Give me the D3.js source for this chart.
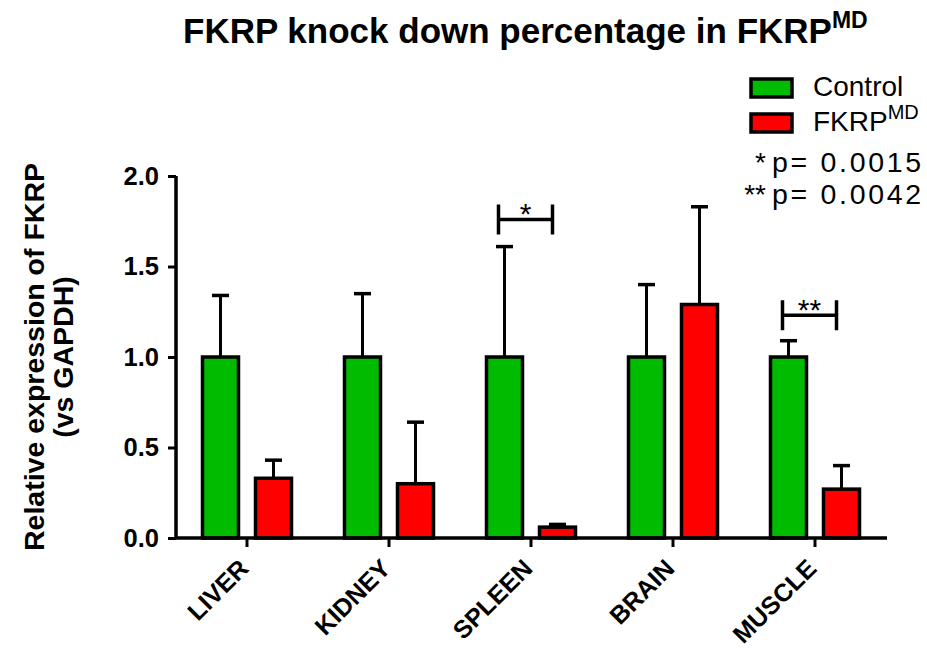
<!DOCTYPE html>
<html>
<head>
<meta charset="utf-8">
<script src="https://cdn.jsdelivr.net/npm/d3@7"></script>
<style>
  html, body { margin: 0; padding: 0; background: #fff; }
  svg { display: block; font-family: "Liberation Sans", Arial, Helvetica, sans-serif; }
</style>
</head>
<body>
<svg id="chart" width="927" height="649"></svg>
<script>
// Tissues and series
const tissues = ["LIVER", "KIDNEY", "SPLEEN", "BRAIN", "MUSCLE"];
const seriesNames = ["Control", "FKRP"];
const seriesColors = ["#00bb00", "#ff0000"];

// Mean relative expression (vs GAPDH) and upper error (mean + SD)
const controlMean = [1.00, 1.00, 1.00, 1.00, 1.00];
const controlUpper = [1.34, 1.35, 1.61, 1.40, 1.09];
const fkrpMean = [0.33, 0.30, 0.06, 1.29, 0.27];
const fkrpUpper = [0.43, 0.64, 0.075, 1.83, 0.40];

// Y axis ticks
const yTicks = [0.0, 0.5, 1.0, 1.5, 2.0];

// Significance brackets
const sigTissues = ["SPLEEN", "MUSCLE"];
const sigLevels = [1.76, 1.23];
const sigLabels = ["*", "**"];
const pValueLines = ["p= 0.0015", "p= 0.0042"];

const svg = d3.select("#chart");

const y = d3.scaleLinear().domain([0, 2]).range([538, 176]);
const x0 = d3.scaleBand().domain(tissues).range([176, 886]).padding(0);
const x1 = d3.scaleBand().domain(seriesNames).range([26.5, 115.5]).paddingInner(0.3208).paddingOuter(0);

const rows = tissues.map((t, i) => ({
  tissue: t,
  values: [
    { key: "Control", mean: controlMean[i], upper: controlUpper[i], color: seriesColors[0] },
    { key: "FKRP", mean: fkrpMean[i], upper: fkrpUpper[i], color: seriesColors[1] }
  ]
}));

// Title
const title = svg.append("text")
  .attr("x", 183).attr("y", 43)
  .attr("font-size", 35).attr("font-weight", "bold").attr("fill", "#000");
title.append("tspan").text("FKRP knock down percentage in FKRP");
title.append("tspan").attr("font-size", 23).attr("dy", -15).text("MD");

// Error bars (upper only), drawn first so bars sit on top
const groups = svg.append("g").selectAll("g")
  .data(rows).join("g")
  .attr("transform", d => `translate(${x0(d.tissue)},0)`);

groups.selectAll("line.err")
  .data(d => d.values).join("line")
  .attr("class", "err")
  .attr("x1", d => x1(d.key) + x1.bandwidth() / 2)
  .attr("x2", d => x1(d.key) + x1.bandwidth() / 2)
  .attr("y1", d => y(d.mean))
  .attr("y2", d => y(d.upper))
  .attr("stroke", "#000").attr("stroke-width", 3);

groups.selectAll("line.cap")
  .data(d => d.values).join("line")
  .attr("class", "cap")
  .attr("x1", d => x1(d.key) + x1.bandwidth() / 2 - 8.5)
  .attr("x2", d => x1(d.key) + x1.bandwidth() / 2 + 8.5)
  .attr("y1", d => y(d.upper))
  .attr("y2", d => y(d.upper))
  .attr("stroke", "#000").attr("stroke-width", 3.5);

groups.selectAll("rect")
  .data(d => d.values).join("rect")
  .attr("x", d => x1(d.key))
  .attr("y", d => y(d.mean))
  .attr("width", x1.bandwidth())
  .attr("height", d => y(0) - y(d.mean))
  .attr("fill", d => d.color)
  .attr("stroke", "#000").attr("stroke-width", 3.5);

// Y axis
const yAxis = svg.append("g")
  .attr("transform", "translate(176,0)")
  .call(d3.axisLeft(y).tickValues(yTicks).tickFormat(d3.format(".1f")).tickSize(8).tickPadding(9));
yAxis.select(".domain").attr("stroke", "#000").attr("stroke-width", 3.5).attr("d", `M0,${y(2)}V${y(0)}`);
yAxis.selectAll(".tick line").attr("stroke", "#000").attr("stroke-width", 3);
yAxis.selectAll(".tick text")
  .attr("font-size", 25.5).attr("font-weight", "bold").attr("fill", "#000")
  .attr("font-family", "Liberation Sans, Arial, sans-serif");

// X axis
const xAxis = svg.append("g")
  .attr("transform", `translate(0,${y(0)})`)
  .call(d3.axisBottom(x0).tickSize(9).tickFormat(""));
xAxis.select(".domain").attr("stroke", "#000").attr("stroke-width", 3.5).attr("d", "M176,0H887");
xAxis.selectAll(".tick line").attr("stroke", "#000").attr("stroke-width", 3);

// Rotated tissue labels
svg.append("g").selectAll("text")
  .data(tissues).join("text")
  .attr("transform", d => `translate(${x0(d) + x0.bandwidth() / 2 + 3},${y(0) + 32}) rotate(-45)`)
  .attr("text-anchor", "end")
  .attr("font-size", 25).attr("font-weight", "bold").attr("fill", "#000")
  .text(d => d);

// Y axis title
const yTitle = svg.append("text")
  .attr("transform", `translate(0,${y(1)}) rotate(-90)`)
  .attr("text-anchor", "middle")
  .attr("font-size", 28.5).attr("font-weight", "bold").attr("fill", "#000");
yTitle.append("tspan").attr("x", 0).attr("y", 44).text("Relative expression of FKRP");
yTitle.append("tspan").attr("x", 0).attr("y", 73).text("(vs GAPDH)");

// Significance brackets
const sig = sigTissues.map((t, i) => ({ tissue: t, level: sigLevels[i], label: sigLabels[i] }));
const sigG = svg.append("g").selectAll("g").data(sig).join("g");
sigG.each(function (d) {
  const g = d3.select(this);
  const xa = x0(d.tissue) + x1("Control") + x1.bandwidth() / 2 - 6;
  const xb = x0(d.tissue) + x1("FKRP") + x1.bandwidth() / 2 - 5;
  const yc = y(d.level);
  g.append("path")
    .attr("d", `M${xa},${yc - 15}V${yc + 15}M${xa},${yc}H${xb}M${xb},${yc - 15}V${yc + 15}`)
    .attr("fill", "none").attr("stroke", "#000").attr("stroke-width", 3.5);
  g.append("text")
    .attr("x", (xa + xb) / 2).attr("y", yc + 5)
    .attr("text-anchor", "middle")
    .attr("font-size", 30).attr("fill", "#000")
    .text(d.label);
});

// Legend
const legend = svg.append("g");
const legendItems = [
  { color: seriesColors[0], top: 79, label: "Control", sup: null },
  { color: seriesColors[1], top: 114, label: "FKRP", sup: "MD" }
];
legendItems.forEach(it => {
  legend.append("rect")
    .attr("x", 751).attr("y", it.top).attr("width", 41).attr("height", 18)
    .attr("fill", it.color).attr("stroke", "#000").attr("stroke-width", 3.5);
  const t = legend.append("text")
    .attr("x", 813).attr("y", it.top + 17)
    .attr("font-size", 28).attr("fill", "#000");
  t.append("tspan").text(it.label);
  if (it.sup) t.append("tspan").attr("font-size", 20).attr("dy", -12).text(it.sup);
});

pValueLines.forEach((p, i) => {
  const base = 172 + i * 32;
  legend.append("text")
    .attr("x", 766).attr("y", base)
    .attr("text-anchor", "end")
    .attr("font-size", 28).attr("fill", "#000")
    .text(sigLabels[i]);
  legend.append("text")
    .attr("x", 772).attr("y", base)
    .attr("font-size", 28.5).attr("letter-spacing", 2.7).attr("fill", "#000")
    .text(p);
});
</script>
</body>
</html>
